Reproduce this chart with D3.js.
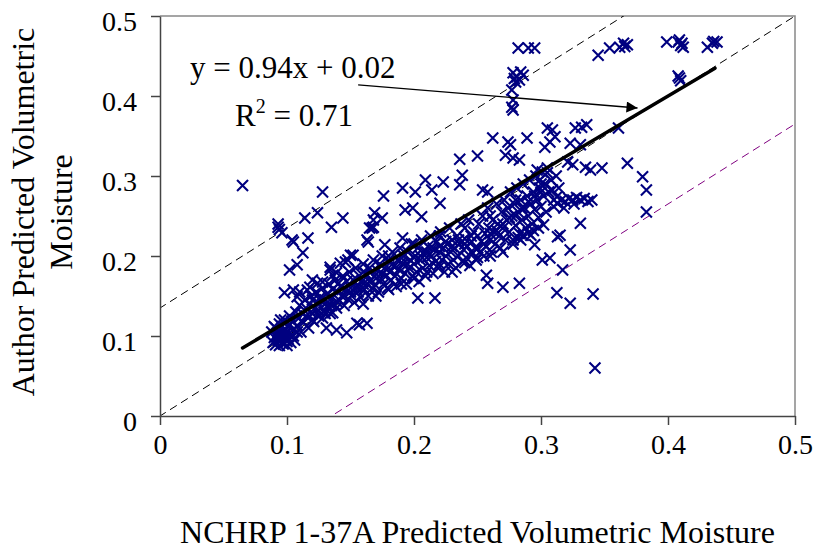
<!DOCTYPE html>
<html>
<head>
<meta charset="utf-8">
<script src="https://cdn.jsdelivr.net/npm/d3@7"></script>
<style>
  body { margin: 0; background: #fff; }
  text { font-family: "Liberation Serif", "Times New Roman", serif; fill: #000; }
</style>
</head>
<body>
<svg id="chart" width="817" height="550"></svg>
<script>
// tick values for both axes
var xTicks = [0, 0.1, 0.2, 0.3, 0.4, 0.5]
var yTicks = [0, 0.1, 0.2, 0.3, 0.4, 0.5]

// trend line (slope, intercept, x extent)
var trendSlope = 0.94
var trendIntercept = 0.024
var trendExtent = [0.065, 0.437]

// reference lines: 1:1 line and two offsets
var refIntercepts = [0, 0.135, -0.135]
var refColors = ["#000", "#000", "#800080"]

// arrow from the equation to the trend line
var arrowFrom = [0.156, 0.414]
var arrowTo = [0.376, 0.385]

// dense band of points (NCHRP, Author)
var bandPoints = [
  [0.088,0.105],[0.09,0.098],[0.091,0.11],[0.092,0.102],[0.093,0.095],[0.094,0.115],[0.095,0.1],[0.096,0.092],
  [0.097,0.107],[0.098,0.12],[0.099,0.097],[0.1,0.104],[0.1,0.093],[0.101,0.112],[0.102,0.125],[0.103,0.1],
  [0.104,0.118],[0.105,0.108],[0.106,0.095],[0.107,0.13],[0.092,0.099],[0.095,0.094],[0.098,0.103],[0.101,0.096],
  [0.089,0.092],[0.091,0.089],[0.094,0.088],[0.097,0.09],[0.1,0.088],[0.103,0.092],[0.093,0.104],[0.096,0.112],
  [0.099,0.108],[0.102,0.115],[0.105,0.1],[0.108,0.105],[0.09,0.112],[0.095,0.12],
  [0.108,0.113],[0.109,0.122],[0.11,0.138],[0.111,0.105],[0.112,0.128],[0.113,0.117],[0.114,0.145],[0.115,0.125],
  [0.116,0.133],[0.117,0.11],[0.118,0.14],[0.119,0.15],[0.12,0.128],[0.121,0.118],[0.122,0.135],[0.123,0.155],
  [0.124,0.142],[0.125,0.125],[0.126,0.148],[0.127,0.136],[0.128,0.16],[0.129,0.13],[0.13,0.145],
  [0.112,0.118],[0.118,0.125],[0.125,0.132],[0.13,0.128],[0.12,0.145],
  [0.131,0.152],[0.132,0.138],[0.133,0.165],[0.134,0.128],[0.135,0.147],[0.136,0.158],[0.137,0.14],[0.138,0.17],
  [0.139,0.135],[0.14,0.155],[0.141,0.145],[0.142,0.162],[0.143,0.15],[0.144,0.175],[0.145,0.138],[0.146,0.158],
  [0.147,0.168],[0.148,0.146],[0.149,0.18],[0.15,0.16],[0.151,0.15],[0.152,0.17],[0.153,0.142],[0.154,0.185],
  [0.155,0.163],[0.156,0.155],[0.157,0.175],[0.158,0.148],[0.159,0.168],[0.16,0.19],
  [0.135,0.138],[0.14,0.142],[0.145,0.15],[0.15,0.155],[0.155,0.16],[0.14,0.165],
  [0.161,0.158],[0.162,0.178],[0.163,0.165],[0.164,0.15],[0.165,0.185],[0.166,0.17],[0.167,0.16],[0.168,0.195],
  [0.169,0.175],[0.17,0.163],[0.171,0.182],[0.172,0.155],[0.173,0.19],[0.174,0.172],[0.175,0.2],[0.176,0.165],
  [0.177,0.185],[0.178,0.175],[0.179,0.16],[0.18,0.195],[0.181,0.18],[0.182,0.17],[0.183,0.205],[0.184,0.187],
  [0.185,0.175],[0.186,0.162],[0.187,0.195],[0.188,0.183],[0.189,0.21],[0.19,0.172],[0.191,0.19],[0.192,0.2],
  [0.193,0.178],[0.194,0.165],[0.195,0.205],[0.196,0.185],[0.197,0.195],[0.198,0.215],[0.199,0.175],[0.2,0.19],
  [0.16,0.165],[0.165,0.168],[0.17,0.172],[0.175,0.178],[0.18,0.185],[0.185,0.188],[0.19,0.192],[0.195,0.19],
  [0.16,0.14],[0.17,0.15],[0.18,0.158],[0.19,0.165],[0.16,0.18],[0.18,0.2],
  [0.201,0.2],[0.202,0.18],[0.203,0.21],[0.204,0.168],[0.205,0.195],[0.206,0.22],[0.207,0.185],[0.208,0.205],
  [0.209,0.175],[0.21,0.198],[0.211,0.212],[0.212,0.188],[0.213,0.225],[0.214,0.2],[0.215,0.178],[0.216,0.208],
  [0.217,0.193],[0.218,0.218],[0.219,0.185],[0.22,0.205],[0.221,0.23],[0.222,0.195],[0.223,0.21],[0.224,0.18],
  [0.225,0.2],[0.226,0.215],[0.227,0.19],[0.228,0.235],[0.229,0.205],[0.23,0.22],[0.231,0.195],[0.232,0.21],
  [0.233,0.185],[0.234,0.225],[0.235,0.2],[0.236,0.215],[0.237,0.24],[0.238,0.193],[0.239,0.208],[0.24,0.222],
  [0.241,0.198],[0.242,0.212],[0.243,0.245],[0.244,0.188],[0.245,0.218],[0.246,0.203],[0.247,0.23],[0.248,0.21],
  [0.249,0.195],[0.25,0.225],
  [0.2,0.198],[0.205,0.2],[0.21,0.205],[0.215,0.21],[0.22,0.212],[0.225,0.218],[0.23,0.212],[0.235,0.22],
  [0.24,0.215],[0.245,0.225],[0.2,0.172],[0.21,0.18],[0.22,0.19],[0.23,0.18],[0.24,0.192],[0.2,0.215],
  [0.22,0.225],[0.24,0.235],
  [0.251,0.24],[0.252,0.205],[0.253,0.218],[0.254,0.25],[0.255,0.2],[0.256,0.228],[0.257,0.212],[0.258,0.26],
  [0.259,0.235],[0.26,0.22],[0.261,0.205],[0.262,0.245],[0.263,0.23],[0.264,0.215],[0.265,0.265],[0.266,0.24],
  [0.267,0.225],[0.268,0.21],[0.269,0.255],[0.27,0.235],[0.271,0.27],[0.272,0.22],[0.273,0.245],[0.274,0.26],
  [0.275,0.23],[0.276,0.28],[0.277,0.25],[0.278,0.215],[0.279,0.265],[0.28,0.238],[0.281,0.285],[0.282,0.255],
  [0.283,0.228],[0.284,0.27],[0.285,0.245],[0.286,0.29],[0.287,0.26],[0.288,0.235],[0.289,0.275],[0.29,0.25],
  [0.291,0.295],[0.292,0.265],[0.293,0.24],[0.294,0.28],[0.295,0.258],[0.296,0.3],[0.297,0.27],[0.298,0.248],
  [0.299,0.285],[0.3,0.262],
  [0.25,0.21],[0.255,0.215],[0.26,0.228],[0.265,0.232],[0.27,0.24],[0.275,0.248],[0.28,0.25],[0.285,0.26],
  [0.29,0.268],[0.295,0.275],[0.3,0.28],[0.25,0.198],[0.26,0.2],[0.27,0.205],[0.26,0.25],[0.28,0.27],[0.3,0.29],
  [0.301,0.305],[0.302,0.275],[0.303,0.29],[0.304,0.255],[0.305,0.31],[0.306,0.28],[0.308,0.295],[0.31,0.27],
  [0.312,0.3],[0.314,0.285]
]

// scattered points around the band
var scatterPoints = [
  [0.065,0.288],[0.128,0.28],[0.093,0.236],[0.094,0.233],[0.096,0.229],[0.093,0.24],[0.104,0.22],[0.105,0.2175],
  [0.114,0.2475],[0.124,0.254],[0.1165,0.2225],[0.135,0.236],[0.144,0.2475],[0.1125,0.204],[0.102,0.1825],
  [0.108,0.189],[0.176,0.275],[0.191,0.285],[0.201,0.28],[0.209,0.295],[0.214,0.2825],[0.223,0.2925],
  [0.236,0.321],[0.25,0.325],[0.238,0.301],[0.236,0.289],[0.262,0.3475],[0.274,0.3425],[0.276,0.339],
  [0.289,0.3475],[0.278,0.3825],[0.272,0.326],[0.278,0.3225],[0.283,0.32],[0.254,0.2825],[0.258,0.28],
  [0.2205,0.266],[0.193,0.2575],[0.199,0.26],[0.206,0.249],[0.175,0.2475],[0.165,0.235],[0.168,0.236],
  [0.164,0.2175],[0.177,0.214],[0.191,0.2225],[0.15,0.201],[0.146,0.1925],[0.147,0.104],[0.157,0.114],
  [0.163,0.116],[0.155,0.116],[0.203,0.1475],[0.2165,0.1475],[0.257,0.176],[0.258,0.166],[0.27,0.161],
  [0.283,0.166],[0.3125,0.154],[0.323,0.141],[0.341,0.1525],[0.3425,0.06],[0.331,0.241],[0.315,0.226],
  [0.295,0.214],[0.301,0.195],[0.307,0.1975],[0.323,0.2075],[0.317,0.1825],[0.321,0.3175],[0.325,0.314],
  [0.303,0.336],[0.307,0.3425],[0.311,0.349],[0.323,0.341],[0.331,0.339],[0.305,0.36],[0.309,0.3575],
  [0.327,0.36],[0.332,0.361],[0.336,0.364],[0.361,0.36],[0.368,0.316],[0.38,0.299],[0.383,0.2825],
  [0.383,0.255],[0.335,0.311],[0.339,0.3075],[0.348,0.31],[0.297,0.3075],[0.305,0.304],[0.299,0.295],
  [0.309,0.2825],[0.3125,0.274],[0.313,0.224],
  [0.126,0.145],[0.132,0.136],[0.136,0.129],[0.128,0.1225],[0.12,0.12],[0.131,0.11],[0.139,0.1075],
  [0.098,0.154],[0.105,0.1575],[0.108,0.149],[0.12,0.17],[0.118,0.161],[0.134,0.1825],[0.136,0.176],
  [0.142,0.191],[0.148,0.195],[0.152,0.201],[0.163,0.22],[0.167,0.235],[0.169,0.254],[0.168,0.245],
  [0.11,0.155],[0.116,0.1575],[0.124,0.166],[0.128,0.1675],[0.134,0.186],[0.139,0.179],
  [0.31,0.262],[0.313,0.266],[0.316,0.27],[0.319,0.268],[0.322,0.272],[0.325,0.27],[0.328,0.273],[0.331,0.27],
  [0.334,0.272],[0.337,0.268],[0.34,0.27],[0.318,0.26],[0.326,0.265],
  [0.278,0.22],[0.282,0.223],[0.286,0.226],[0.29,0.229],[0.294,0.232],[0.298,0.235],[0.302,0.239],
  [0.284,0.22],[0.292,0.226]
]

// high points near the top of the chart
var upperPoints = [
  [0.278,0.429],[0.281,0.424],[0.283,0.42],[0.286,0.426],[0.28,0.4175],[0.277,0.4075],[0.278,0.395],
  [0.277,0.386],[0.284,0.43],[0.279,0.422],
  [0.282,0.46],[0.29,0.46],[0.295,0.46],[0.345,0.451],[0.354,0.46],[0.362,0.461],[0.365,0.466],[0.368,0.464],
  [0.366,0.462],[0.399,0.4675],[0.408,0.4675],[0.411,0.466],[0.412,0.461],[0.409,0.47],[0.41,0.463],
  [0.431,0.461],[0.435,0.466],[0.4386,0.4675],[0.436,0.468],
  [0.409,0.4225],[0.41,0.419],[0.408,0.425]
]

var dims = {
    width: 817,
    height: 550,
    margin: { top: 16, bottom: 134, left: 160, right: 22 }
}

var svg = d3.select("#chart")

var xScale = d3.scaleLinear()
        .domain([0, 0.5])
        .range([dims.margin.left, dims.width - dims.margin.right])

var yScale = d3.scaleLinear()
        .domain([0, 0.5])
        .range([dims.height - dims.margin.bottom, dims.margin.top])

// clip path for the plot area
svg.append("defs").append("clipPath")
        .attr("id", "plotClip")
        .append("rect")
        .attr("x", xScale(0))
        .attr("y", yScale(0.5))
        .attr("width", xScale(0.5) - xScale(0))
        .attr("height", yScale(0) - yScale(0.5))

// grey frame on top and right
svg.append("path")
        .attr("d", `M${xScale(0)},${yScale(0.5)}H${xScale(0.5)}V${yScale(0)}`)
        .attr("fill", "none")
        .attr("stroke", "#888")
        .attr("stroke-width", 1.5)

// reference lines
var refLine = d3.line().x(d => xScale(d[0])).y(d => yScale(d[1]))
svg.append("g")
        .attr("clip-path", "url(#plotClip)")
        .selectAll("path")
        .data(refIntercepts)
        .enter()
        .append("path")
        .attr("d", b => refLine([[-0.2, -0.2 + b], [0.7, 0.7 + b]]))
        .attr("fill", "none")
        .attr("stroke", (b, i) => refColors[i])
        .attr("stroke-width", 1)
        .attr("stroke-dasharray", "8,5")

// points
var allPoints = bandPoints.concat(scatterPoints, upperPoints)
svg.append("g")
        .selectAll("path")
        .data(allPoints)
        .enter()
        .append("path")
        .attr("transform", d => `translate(${xScale(d[0])},${yScale(d[1])})`)
        .attr("d", "M-5.5,-5.5L5.5,5.5M-5.5,5.5L5.5,-5.5")
        .attr("stroke", "#000080")
        .attr("stroke-width", 2.1)
        .attr("fill", "none")

// trend line
svg.append("path")
        .attr("d", refLine(trendExtent.map(x => [x, trendSlope * x + trendIntercept])))
        .attr("stroke", "#000")
        .attr("stroke-width", 3.5)
        .attr("stroke-linecap", "round")

// arrow
svg.append("defs").append("marker")
        .attr("id", "arrowHead")
        .attr("viewBox", "0 0 10 10")
        .attr("refX", 10)
        .attr("refY", 5)
        .attr("markerWidth", 15)
        .attr("markerHeight", 11)
        .attr("markerUnits", "userSpaceOnUse")
        .attr("orient", "auto")
        .append("path")
        .attr("d", "M0,0L10,5L0,10Z")
        .attr("fill", "#000")

svg.append("line")
        .attr("x1", xScale(arrowFrom[0]))
        .attr("y1", yScale(arrowFrom[1]))
        .attr("x2", xScale(arrowTo[0]))
        .attr("y2", yScale(arrowTo[1]))
        .attr("stroke", "#000")
        .attr("stroke-width", 1.3)
        .attr("marker-end", "url(#arrowHead)")

// axes
var xAxisGen = d3.axisBottom(xScale)
        .tickValues(xTicks)
        .tickFormat(d3.format("~g"))
        .tickSizeInner(9)
        .tickSizeOuter(0)
        .tickPadding(9)

var xAxis = svg.append("g")
        .attr("transform", `translate(0,${yScale(0)})`)
        .call(xAxisGen)

var yAxisGen = d3.axisLeft(yScale)
        .tickValues(yTicks)
        .tickFormat(d3.format("~g"))
        .tickSizeInner(9)
        .tickSizeOuter(0)
        .tickPadding(14)

var yAxis = svg.append("g")
        .attr("transform", `translate(${xScale(0)},0)`)
        .call(yAxisGen)

svg.selectAll(".domain").attr("stroke", "#444").attr("stroke-width", 1.5)
svg.selectAll(".tick line").attr("stroke", "#444").attr("stroke-width", 1.5)
svg.selectAll(".tick text")
        .attr("font-family", "Liberation Serif, Times New Roman, serif")
        .attr("font-size", 28)
        .attr("fill", "#000")
yAxis.selectAll(".tick text").attr("dy", "0.5em")

// axis titles
svg.append("text")
        .attr("x", (xScale(0) + xScale(0.5)) / 2)
        .attr("y", 543)
        .attr("text-anchor", "middle")
        .attr("font-size", 32)
        .text("NCHRP 1-37A Predicted Volumetric Moisture")

var yTitle = svg.append("text")
        .attr("transform", "rotate(-90)")
        .attr("text-anchor", "middle")
        .attr("font-size", 32)
yTitle.append("tspan")
        .attr("x", -212)
        .attr("y", 34)
        .text("Author Predicted Volumetric")
yTitle.append("tspan")
        .attr("x", -212)
        .attr("y", 72)
        .text("Moisture")

// equation label
svg.append("text")
        .attr("x", 190)
        .attr("y", 78)
        .attr("font-size", 31)
        .text("y = 0.94x + 0.02")

var r2 = svg.append("text")
        .attr("x", 235)
        .attr("y", 126)
        .attr("font-size", 31)
r2.append("tspan").text("R")
r2.append("tspan").attr("font-size", 20).attr("dy", -13).text("2")
r2.append("tspan").attr("dy", 13).text(" = 0.71")
</script>
</body>
</html>
